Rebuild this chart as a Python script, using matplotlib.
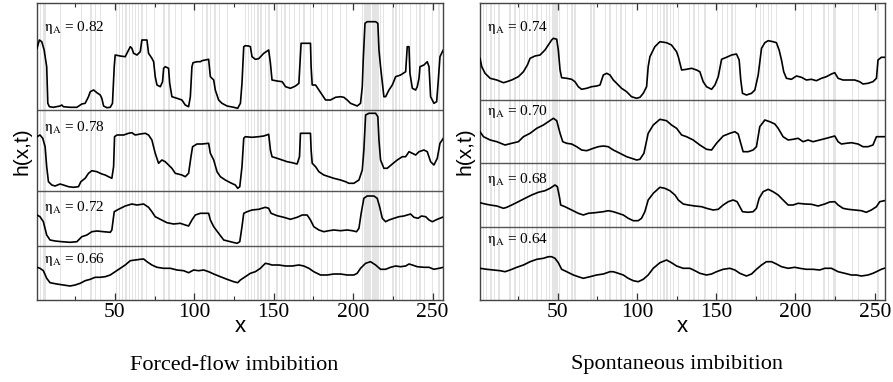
import matplotlib
matplotlib.use("Agg")
import matplotlib.pyplot as plt
from matplotlib.ticker import MultipleLocator

plt.rcParams['font.family'] = ['Liberation Serif', 'DejaVu Serif']
plt.rcParams['mathtext.fontset'] = 'stix'

# ---------------- data ----------------
# Forced-flow imbibition (left panel): x positions and interface heights h (arb. units)
L82_x = [1.0, 2.5, 4.0, 5.5, 7.1, 7.8, 8.8, 11.3, 15.5, 16.6, 17.6, 21.8, 26.1, 29.2, 31.3, 33.4, 34.5, 36.6, 38.7, 40.8, 41.8, 42.9, 45.0, 47.1, 48.5, 49.6, 50.2, 53.4, 56.5, 58.6, 59.7, 60.7, 61.8, 63.9, 66.0, 67.0, 70.2, 71.2, 73.3, 74.4, 75.4, 76.5, 78.6, 80.0, 80.7, 81.7, 83.8, 84.5, 85.9, 89.1, 92.2, 94.3, 96.4, 97.5, 98.5, 99.2, 101.7, 103.8, 104.8, 106.9, 109.0, 110.1, 112.2, 113.2, 115.3, 117.4, 120.6, 124.8, 127.3, 129.0, 130.0, 131.1, 132.1, 134.2, 135.3, 136.3, 138.4, 140.5, 143.7, 146.8, 147.9, 148.9, 152.1, 155.3, 157.4, 160.5, 163.7, 165.8, 166.4, 167.2, 173.1, 173.5, 174.2, 176.3, 178.4, 180.5, 182.6, 185.7, 188.9, 192.0, 194.1, 196.2, 198.3, 202.5, 204.6, 205.7, 206.3, 207.4, 208.8, 214.1, 215.5, 216.2, 217.2, 219.3, 220.4, 222.5, 224.6, 226.7, 229.8, 233.0, 234.0, 235.1, 235.7, 237.2, 239.3, 240.3, 241.4, 242.0, 244.5, 246.6, 247.7, 248.7, 250.8, 252.5, 253.4, 254.6, 256.1, 256.7]
L82_h = [251.7, 260, 258.3, 250, 233.3, 196.7, 193.3, 192.7, 194, 195, 193.3, 192.7, 192.7, 196, 196.7, 203.3, 208.3, 210, 207.3, 205, 201.7, 194, 192.3, 192.7, 196.7, 233.3, 245, 244, 243.3, 250, 253.3, 251.7, 246.7, 245, 248.3, 260, 260, 246.7, 241.7, 238.3, 223.3, 215, 213.3, 218.3, 231.7, 233.3, 231.7, 216.7, 203.3, 201.7, 200, 195, 193.3, 203.3, 233.3, 237.3, 238.3, 238.3, 239.3, 240, 240.7, 223.3, 220, 210, 200, 196.7, 194, 192.7, 191.7, 196.7, 216.7, 253.3, 254.3, 254, 253.3, 243.3, 240.7, 241.3, 246.7, 250, 236.7, 220, 219, 218.3, 213.3, 211.7, 214, 216.7, 233.3, 256.7, 256.7, 233.3, 215, 215, 210, 205, 200, 200, 202.7, 203.3, 202.7, 200, 196.7, 194, 196.7, 213.3, 240, 276.7, 278.3, 278.3, 276.7, 250, 233.3, 203.3, 203.3, 210, 215, 223.3, 225, 228.3, 253.3, 253.3, 226.7, 211.7, 210, 213.3, 221.7, 233.3, 235, 238.3, 233.3, 203.3, 196.7, 198.3, 216.7, 243.3, 248.3, 250]

L78_x = [1.0, 2.9, 4.6, 6.1, 7.1, 8.2, 10.3, 12.4, 15.5, 17.6, 20.8, 23.9, 27.1, 28.6, 31.3, 33.4, 35.5, 38.7, 41.8, 43.9, 46.0, 48.1, 49.2, 49.8, 51.3, 55.5, 58.6, 60.7, 62.8, 66.0, 69.1, 71.2, 73.3, 75.4, 77.5, 79.6, 81.7, 83.8, 85.9, 88.0, 92.2, 94.3, 96.4, 97.9, 98.9, 101.7, 104.8, 109.0, 110.1, 112.2, 114.3, 116.4, 119.5, 122.7, 125.8, 127.3, 128.6, 130.0, 131.1, 132.1, 136.3, 140.5, 143.7, 146.8, 147.9, 148.9, 152.1, 155.3, 158.4, 161.6, 164.7, 166.2, 166.8, 173.1, 173.5, 174.2, 176.3, 178.4, 181.5, 184.7, 187.8, 192.0, 195.2, 197.3, 200.4, 203.6, 205.7, 206.7, 207.8, 209.9, 214.1, 215.5, 216.2, 217.2, 219.3, 221.4, 224.6, 227.7, 230.9, 233.0, 235.1, 237.2, 239.3, 241.4, 244.5, 246.6, 248.7, 250.8, 252.9, 254.6, 256.7]
L78_h = [163.3, 165, 161.7, 153.3, 133.3, 118.3, 115, 114, 116, 115, 113.3, 112.7, 113.3, 118.3, 121.7, 126.7, 129.3, 128.3, 126, 125, 123.3, 121.7, 133.3, 163.3, 165, 165, 166.7, 167.3, 165, 166, 166.7, 165, 160, 146.7, 136.7, 140, 138.3, 135, 131.7, 126.7, 125, 123.3, 126.7, 143.3, 153.3, 156, 156, 156.7, 146.7, 140, 128.3, 123.3, 120, 117.3, 115, 111.7, 113.3, 133.3, 161.7, 163.3, 162.7, 163.3, 164, 165.7, 150, 143.3, 141.7, 140, 138.3, 137.3, 136, 143.3, 166.7, 166.7, 150, 136.7, 133.3, 128.3, 125, 123.3, 121.7, 120, 118.3, 116.7, 116.7, 120, 130, 150, 185, 186.7, 186.7, 183.3, 160, 140, 131.7, 131.7, 136, 140, 143.3, 143.3, 148.3, 146.7, 145, 148.3, 150, 148.3, 138.3, 135, 141.7, 156.7, 161.7]

L72_x = [1.0, 2.9, 5.0, 7.1, 9.2, 12.4, 16.6, 21.8, 26.1, 29.2, 32.4, 35.5, 38.7, 42.9, 47.1, 48.1, 49.6, 52.3, 56.5, 60.7, 63.9, 68.1, 71.2, 73.3, 75.4, 78.6, 82.8, 87.0, 91.2, 94.3, 96.4, 98.5, 100.6, 103.8, 109.0, 110.1, 112.2, 115.3, 118.5, 122.7, 126.9, 128.6, 130.0, 131.1, 133.2, 136.3, 140.5, 144.7, 146.8, 148.3, 152.1, 156.3, 160.5, 164.7, 167.9, 171.0, 173.1, 175.2, 178.4, 181.5, 184.7, 187.8, 192.0, 196.2, 199.4, 202.1, 203.6, 205.0, 206.7, 208.8, 213.0, 215.1, 216.6, 218.3, 220.4, 222.5, 225.6, 228.8, 231.9, 234.0, 236.1, 238.2, 240.8, 242.9, 245.6, 247.7, 249.8, 252.9, 256.1]
L72_h = [85, 83.3, 78.3, 65, 60, 59, 58.3, 57.7, 58.3, 63.3, 65, 68.3, 69, 68.3, 67.7, 70, 88.3, 90.7, 94, 96, 95, 96, 92.7, 88.3, 83.3, 80.7, 77.3, 76, 76.7, 75, 74, 80, 85, 86.7, 86.7, 80, 73.3, 66.7, 60, 58.3, 56.7, 58.3, 73.3, 86.7, 88.3, 90, 90.7, 92.7, 91.7, 86.7, 84.3, 82.7, 80.7, 82.7, 85, 85, 80, 73.3, 70, 68.3, 69.3, 70, 69.3, 70, 69.3, 68.3, 71.7, 86.7, 101.7, 104, 104, 101.7, 93.3, 81.7, 78.3, 80, 81.7, 83.3, 84, 85, 86, 82.7, 81.7, 84, 83.3, 80, 78.3, 80.7, 82.7]

L66_x = [1.0, 2.9, 5.0, 7.1, 9.2, 13.4, 17.6, 21.8, 25.0, 28.2, 31.3, 34.5, 37.6, 40.8, 43.9, 47.1, 50.2, 53.4, 56.5, 59.7, 62.8, 66.0, 68.1, 70.2, 73.3, 76.5, 80.7, 84.9, 89.1, 93.3, 96.4, 99.6, 102.7, 105.9, 109.0, 112.2, 116.4, 120.6, 124.8, 127.3, 129.0, 132.1, 135.3, 138.4, 141.6, 144.7, 146.8, 148.9, 153.2, 157.4, 161.6, 165.8, 168.9, 172.1, 175.2, 179.4, 183.6, 187.8, 192.0, 196.2, 200.4, 202.5, 204.6, 207.8, 210.9, 214.1, 217.2, 220.4, 223.5, 226.7, 229.8, 233.0, 235.1, 237.2, 240.3, 244.5, 247.7, 250.8, 254.0, 256.7]
L66_h = [32.7, 31.7, 29.3, 21.7, 17.3, 16, 15, 14, 15, 16.7, 19.3, 20.7, 22.7, 22.7, 23.3, 25, 28.3, 31.7, 35, 39.3, 40, 40.7, 41, 38.3, 35, 32.7, 31.7, 31.7, 30, 29.3, 27.3, 30, 29.3, 30, 28.3, 26, 23.3, 20.7, 18.3, 17.3, 20, 23.3, 26.7, 28.3, 31.7, 36.7, 36, 35, 35, 34, 34, 35, 34, 31.7, 28.3, 25, 25, 26, 26, 25, 25, 26.7, 31.7, 36.7, 38.3, 35, 30.7, 30.7, 32.7, 34, 33.3, 34, 36, 35, 33.3, 32.7, 32.7, 30.7, 31.7, 32.7]

# Spontaneous imbibition (right panel)
R74_x = [1.0, 2.1, 4.2, 7.4, 11.6, 15.8, 17.9, 21.0, 25.2, 28.4, 30.9, 32.6, 35.7, 38.9, 42.0, 44.1, 46.2, 47.3, 49.4, 50.4, 51.5, 52.5, 55.7, 58.8, 60.9, 63.0, 65.1, 68.3, 71.4, 74.6, 76.7, 78.8, 80.9, 83.0, 85.1, 87.2, 90.3, 93.5, 96.6, 99.8, 101.9, 104.0, 106.1, 107.1, 108.2, 111.3, 114.5, 118.7, 121.8, 125.0, 126.1, 128.2, 131.3, 134.5, 137.6, 139.7, 141.8, 143.9, 147.1, 149.2, 151.3, 153.4, 156.5, 159.7, 162.8, 164.5, 165.5, 166.6, 169.1, 172.3, 174.4, 176.5, 178.6, 180.7, 182.8, 185.9, 188.0, 189.7, 191.2, 192.6, 194.3, 197.5, 200.6, 203.8, 206.9, 210.1, 213.2, 216.4, 219.5, 222.7, 224.8, 226.9, 230.0, 233.2, 237.4, 240.5, 242.6, 245.8, 248.9, 251.1, 252.1, 254.2, 256.0]
R74_h = [241.7, 233.3, 226.7, 221.7, 220, 217.3, 218.3, 220, 223.3, 228.3, 235, 241.7, 244, 245, 250, 255, 260, 261.7, 260.7, 250, 230, 222.3, 221.7, 220.7, 218.3, 213.3, 210.7, 211.7, 213.3, 214, 215, 225, 226.7, 225, 220, 216.7, 211.7, 208.3, 203.3, 201.7, 202.7, 206.7, 213.3, 233.3, 243.3, 253.3, 258.3, 257.3, 255, 248.3, 243.3, 230, 230.7, 231.7, 230, 228.3, 218.3, 213.3, 210.7, 215, 223.3, 240.7, 242.7, 245, 246, 240, 220, 206.7, 205, 206.7, 210, 225, 251.7, 257.3, 259.3, 258.3, 257.3, 250, 240, 228.3, 221.7, 220.7, 224, 222.7, 220, 220.7, 219.3, 221.7, 223.3, 226, 227.3, 221.7, 220, 220, 220, 218.3, 216, 216.7, 218.3, 221.7, 240, 242.7, 242.7]

R70_x = [1.0, 3.2, 7.4, 11.6, 16.8, 21.0, 25.2, 28.4, 32.6, 36.8, 41.0, 44.1, 47.3, 49.4, 51.5, 53.2, 55.7, 58.8, 62.0, 65.1, 68.3, 72.5, 75.6, 78.8, 81.9, 85.1, 89.3, 93.5, 96.6, 99.8, 101.9, 104.4, 107.1, 110.3, 114.5, 118.7, 121.8, 125.0, 128.2, 131.3, 135.5, 139.7, 143.9, 147.1, 150.2, 154.4, 158.6, 161.8, 163.9, 165.5, 167.0, 170.2, 173.3, 175.4, 177.5, 180.7, 183.8, 187.0, 189.1, 192.2, 195.4, 198.5, 201.7, 204.8, 208.0, 211.1, 215.3, 219.5, 224.8, 226.9, 229.0, 232.1, 235.3, 239.5, 242.6, 245.8, 248.9, 251.1, 256.0]
R70_h = [168.3, 163.3, 160, 158.3, 155, 156.7, 158.3, 163.3, 166.7, 171.7, 175, 178.3, 181.7, 179.3, 166.7, 158.3, 156.7, 156, 153.3, 150, 149.3, 151.7, 153.3, 154, 153.3, 150, 146.7, 143.3, 141.7, 140, 140.7, 146.7, 166.7, 175, 180.7, 179.3, 175, 171.7, 165, 163.3, 160, 155, 150.7, 150, 156.7, 164, 166.7, 168.3, 166, 156.7, 148.3, 148.3, 150, 153.3, 173.3, 180, 178.3, 176, 171.7, 163.3, 160, 160.7, 161.7, 158.3, 160, 158.3, 160, 161.7, 164, 158.3, 156, 156.7, 157.3, 156, 153.3, 153.3, 155, 163.3, 163.3]

R68_x = [1.0, 4.2, 7.4, 11.6, 15.8, 17.9, 21.0, 25.2, 29.4, 33.6, 37.8, 42.0, 45.2, 48.3, 49.8, 51.1, 51.9, 54.6, 58.8, 63.0, 66.2, 69.3, 73.5, 78.8, 81.9, 85.1, 88.2, 91.4, 94.5, 97.7, 100.8, 102.9, 105.0, 107.1, 110.3, 114.5, 117.6, 120.8, 124.0, 126.1, 129.2, 132.4, 136.6, 140.8, 143.9, 148.1, 151.3, 154.4, 157.6, 160.7, 163.2, 164.9, 166.6, 170.2, 173.3, 175.4, 177.1, 179.6, 182.8, 185.9, 189.1, 192.2, 195.4, 198.5, 201.7, 205.9, 210.1, 214.3, 218.5, 221.6, 224.8, 226.9, 230.0, 233.2, 237.4, 241.6, 244.7, 247.9, 251.1, 253.2, 256.0]
R68_h = [97.3, 96, 95, 94, 91.7, 92.7, 95, 98.3, 101.7, 105, 107.7, 109.3, 111.7, 115, 113.3, 103.3, 95, 93.3, 90, 86.7, 85, 86.7, 87.3, 88.3, 89.3, 88.3, 86.7, 85, 81.7, 79.3, 79.3, 81.7, 88.3, 100, 106.7, 112.7, 111.7, 109.3, 105, 100, 96, 95, 94, 93.3, 91.7, 90, 90.7, 95, 98.3, 100, 98.3, 93.3, 88.3, 87.7, 88.3, 91.7, 101.7, 108.3, 110.7, 108.3, 105, 100, 95, 95, 96.7, 96, 95.7, 94, 96, 98, 98.3, 95, 91.7, 90.7, 90, 89.3, 87.7, 90, 93.3, 98.3, 99.3]

R64_x = [1.0, 5.3, 9.5, 13.7, 16.8, 20.0, 24.2, 28.4, 32.6, 36.8, 41.0, 44.1, 46.2, 48.3, 50.4, 52.5, 55.7, 59.9, 64.1, 66.2, 70.4, 74.6, 78.8, 83.0, 85.1, 88.2, 91.4, 94.5, 97.7, 100.8, 104.0, 107.1, 110.3, 114.5, 118.7, 121.8, 125.0, 129.2, 133.4, 136.6, 139.7, 143.9, 147.1, 150.2, 154.4, 158.6, 161.8, 164.9, 169.1, 172.3, 175.4, 178.6, 181.7, 184.9, 188.0, 191.2, 195.4, 199.6, 202.7, 206.9, 211.1, 215.3, 218.5, 222.7, 226.9, 231.1, 235.3, 238.4, 241.6, 245.8, 248.9, 251.1, 254.2, 256.0]
R64_h = [31.7, 30.7, 30, 29.3, 28.3, 30, 32.7, 35, 38.3, 40.7, 41.7, 43.3, 43.3, 41.7, 37.3, 30.7, 28.3, 25, 22.7, 21.7, 23.3, 25, 26, 28.3, 28.3, 26.7, 25, 21.7, 19.3, 18.3, 20.7, 25, 31.7, 37.3, 40, 37.3, 34, 31.7, 31.7, 29.3, 26.7, 25, 26, 28.3, 30.7, 31.7, 30, 26.7, 24, 26, 30.7, 35, 38.3, 38.3, 36, 33.3, 31.7, 32.7, 31.7, 30.7, 30.7, 30, 31.7, 31.7, 28.3, 26.7, 25, 25, 24, 25, 26.7, 28.3, 30.7, 31.7]

# pinning-site columns (gray background bands)
left_sites = [3, 5, 6, 16, 29, 35, 38, 41, 51, 53, 55, 57, 59, 61, 63, 65, 67, 70, 75, 81, 84, 88, 92, 100, 105, 108, 110, 113, 116, 121, 132, 134, 136, 138, 140, 142, 145, 147, 152, 155, 157, 160, 163, 166, 169, 173, 175, 180, 184, 187, 192, 196, 206, 207, 208, 209, 210, 211, 212, 213, 214, 215, 216, 217, 219, 225, 227, 229, 231, 236, 240, 242, 245, 250, 254]
right_sites = [3, 5, 8, 10, 13, 20, 23, 26, 29, 31, 34, 37, 40, 43, 45, 47, 48, 49, 50, 51, 56, 59, 61, 71, 73, 80, 83, 87, 90, 93, 97, 106, 110, 113, 115, 117, 119, 121, 123, 126, 133, 136, 139, 143, 151, 154, 157, 160, 162, 175, 178, 180, 183, 185, 188, 200, 205, 210, 218, 221, 224, 225, 236, 240, 252]

left_curves = [(L82_x, L82_h, "0.82", 273), (L78_x, L78_h, "0.78", 173),
               (L72_x, L72_h, "0.72", 93), (L66_x, L66_h, "0.66", 40)]
right_curves = [(R74_x, R74_h, "0.74", 273), (R70_x, R70_h, "0.70", 188),
                (R68_x, R68_h, "0.68", 120), (R64_x, R64_h, "0.64", 60)]
left_separators = [190, 109, 54]
right_separators = [200, 137, 73]
xticks_major = [50, 100, 150, 200, 250]

# ---------------- figure ----------------
W, H = 893, 382
fig = plt.figure(figsize=(W / 100, H / 100), dpi=100)

def make_panel(px0, px1, sites, curves, seps, caption, cap_x):
    ax = fig.add_axes([px0 / W, 1 - 300 / H, (px1 - px0) / W, 297 / H])
    ax.set_xlim(1, 256.5)
    ax.set_ylim(0, 297)
    for s in sites:
        ax.axvspan(s - 0.4, s + 0.4, color='#e4e4e4', lw=0, zorder=0)
    for y in seps:
        ax.axhline(y, color='#555555', lw=1.0, zorder=2)
    for xs, hs, lab, ly in curves:
        ax.plot(xs, hs, color='black', lw=1.2, zorder=3)
        ax.text(5.5, ly, r'$\mathrm{\eta}_{\mathrm{A}}$' + ' = ' + lab, fontsize=11,
                va='center', ha='left', zorder=4)
    ax.set_xticks(xticks_major)
    ax.xaxis.set_minor_locator(MultipleLocator(25))
    ax.set_yticks([])
    ax.tick_params(axis='x', which='major', direction='in', top=True, length=5,
                   width=0.9, labelsize=15.5, pad=2, color='#333333')
    ax.tick_params(axis='x', which='minor', direction='in', top=True, length=3,
                   width=0.8, color='#333333')
    for sp in ax.spines.values():
        sp.set_color('#444444')
        sp.set_linewidth(1.0)
    ax.set_xlabel('x', fontsize=16, family=['Liberation Sans', 'DejaVu Sans'], labelpad=-4)
    ax.set_ylabel('h(x,t)', fontsize=15, family=['Liberation Sans', 'DejaVu Sans'], labelpad=4)
    fig.text(cap_x / W, 1 - 365 / H, caption, fontsize=16, ha='center', va='center')
    return ax

make_panel(37, 443, left_sites, left_curves, left_separators, 'Forced-flow imbibition', 234)
make_panel(480, 885, right_sites, right_curves, right_separators, 'Spontaneous imbibition', 677)

fig.savefig('out.png', dpi=100)
